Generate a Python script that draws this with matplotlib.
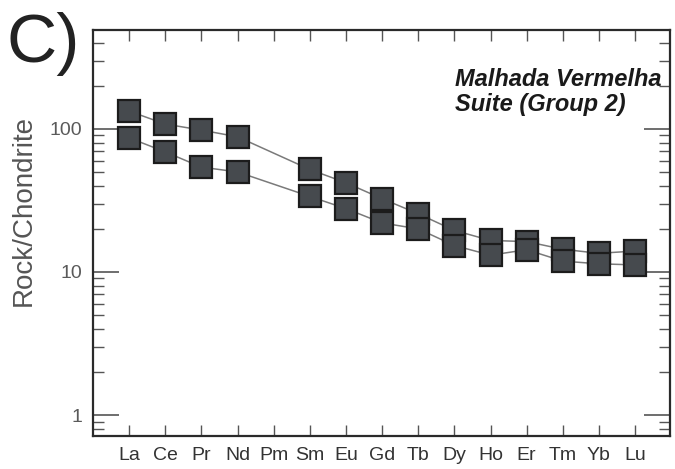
import matplotlib
matplotlib.use("Agg")
import matplotlib.pyplot as plt
from matplotlib.ticker import LogLocator, NullFormatter, FixedLocator, FixedFormatter
import numpy as np

elements = ["La", "Ce", "Pr", "Nd", "Pm", "Sm", "Eu", "Gd", "Tb", "Dy", "Ho", "Er", "Tm", "Yb", "Lu"]
sample_a = [133, 108, 98, 88, None, 52, 42, 32.5, 25.5, 19.5, 16.6, 16.3, 14.4, 13.5, 14.0]
sample_b = [86.5, 69, 54, 50, None, 33.7, 27.7, 22, 20, 15.3, 13.1, 14.3, 11.9, 11.4, 11.2]
ytick_vals = [1, 10, 100]
ytick_labels = ["1", "10", "100"]

plt.rcParams['font.family'] = ['Liberation Sans', 'DejaVu Sans']

fig = plt.figure(figsize=(6.75, 4.69), dpi=100)
ax = fig.add_axes([0.1378, 0.0704, 0.855, 0.866])

x = np.arange(len(elements))

def draw(vals):
    xs = [xi for xi, v in zip(x, vals) if v is not None]
    ys = [v for v in vals if v is not None]
    ax.plot(xs, ys, color="#7a7a7a", lw=1.1, zorder=1)
    ax.plot(xs, ys, ls="none", marker="s", markersize=15.5, markerfacecolor="#464a4e",
            markeredgecolor="#1c1c1c", markeredgewidth=1.6, zorder=2)

draw(sample_a)
draw(sample_b)

ax.set_yscale("log")
ax.set_ylim(0.714, 492)
ax.set_xlim(-1.0, 14.97)

ax.yaxis.set_major_locator(FixedLocator(ytick_vals))
ax.yaxis.set_major_formatter(FixedFormatter(ytick_labels))
ax.yaxis.set_minor_locator(LogLocator(base=10, subs=np.arange(2, 10)))
ax.yaxis.set_minor_formatter(NullFormatter())
ax.set_xticks(x)
ax.set_xticklabels(elements)

ax.tick_params(axis="y", which="major", direction="in", length=19, width=1.2, color="#555555",
               labelsize=14, labelcolor="#5a5a5a", right=True, pad=8)
ax.tick_params(axis="y", which="minor", direction="in", length=8, width=1.0, color="#555555", right=True)
ax.tick_params(axis="x", which="major", direction="in", length=8, width=1.0, color="#555555",
               labelsize=14, labelcolor="#333333", top=True, pad=8)

for s in ax.spines.values():
    s.set_linewidth(1.6)
    s.set_color("#2a2a2a")

ax.set_ylabel("Rock/Chondrite", fontsize=20, color="#555555")
ax.yaxis.set_label_coords(-0.098, 0.555)

ax.text(0.628, 0.905, "Malhada Vermelha\nSuite (Group 2)", transform=ax.transAxes,
        fontsize=17, fontweight="bold", fontstyle="italic", color="#1a1a1a",
        ha="left", va="top", linespacing=1.1)

fig.text(0.010, 0.868, "C)", fontsize=50, color="#222222", ha="left", va="baseline")

fig.savefig("out.png", dpi=100)
